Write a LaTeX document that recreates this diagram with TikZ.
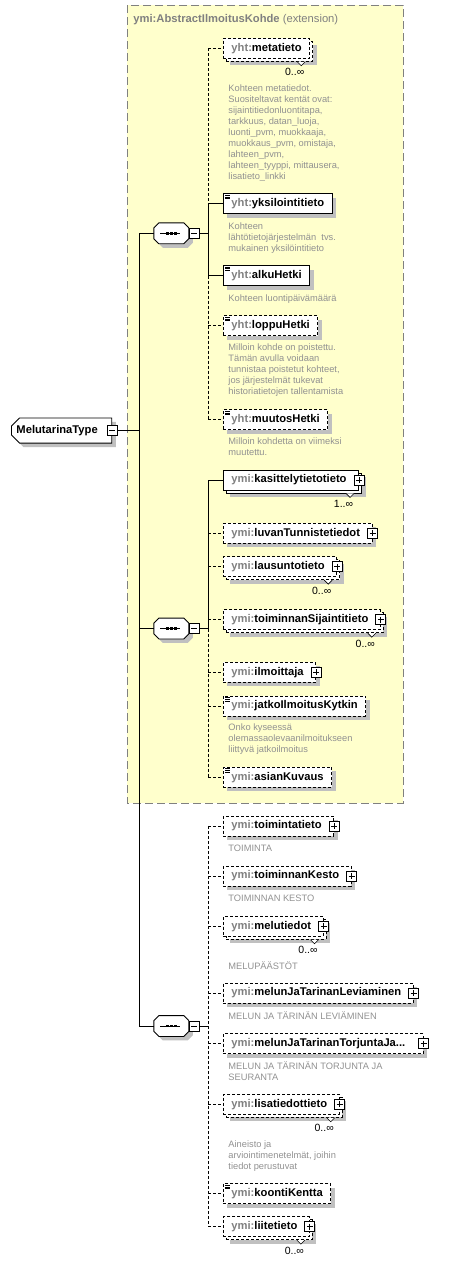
\documentclass[tikz,border=0pt]{standalone}
\usepackage{fontspec}
\setmainfont{Liberation Sans}
\usetikzlibrary{positioning, shapes.misc, shadows}

\definecolor{extyellow}{RGB}{255,255,204}
\definecolor{extborder}{RGB}{128,128,128}
\definecolor{pfxgray}{RGB}{128,128,128}
\definecolor{descgray}{RGB}{145,145,145}
\definecolor{shadowgray}{RGB}{192,192,192}

\newcommand{\ymi}{\textcolor{pfxgray}{ymi:}}
\newcommand{\yht}{\textcolor{pfxgray}{yht:}}

\begin{document}
\begin{tikzpicture}[x=1pt, y=-1pt, line width=0.9pt,
    shadow_s/.style={drop shadow={shadow xshift=4pt, shadow yshift=-4pt, opacity=1, fill=shadowgray}},
    shadow_m/.style={drop shadow={shadow xshift=7pt, shadow yshift=-7pt, opacity=1, fill=shadowgray}},
    elem/.style={draw, fill=white, anchor=west, minimum height=20pt, inner xsep=8pt, inner ysep=2pt,
        font=\fontsize{11.2}{13}\selectfont\bfseries},
    elem_req/.style={elem, shadow_s},
    elem_opt/.style={elem, shadow_s, dash pattern=on 3pt off 2pt},
    elem_reqmulti/.style={elem, shadow_m,
        preaction={draw, fill=white, solid, transform canvas={shift={(3pt,-3pt)}}}},
    elem_optmulti/.style={elem, shadow_m,
        preaction={draw, fill=white, dash pattern=on 3pt off 2pt, transform canvas={shift={(3pt,-3pt)}}},
        dash pattern=on 3pt off 2pt},
    simple_icon/.style={path picture={
        \foreach \dy in {1.5,3.2,4.9}
            \draw[line width=0.7pt, solid] ([shift={(2pt,-\dy pt)}]path picture bounding box.north west) -- ++(5pt,0pt);}},
    expand_gap/.style={execute at end node={\hspace*{4pt}}},
    plus_box/.style={draw, solid, fill=white, minimum size=10pt, inner sep=0pt, line width=0.8pt,
        path picture={
            \draw ([xshift=2pt]path picture bounding box.west) -- ([xshift=-2pt]path picture bounding box.east);
            \draw ([yshift=-2pt]path picture bounding box.north) -- ([yshift=2pt]path picture bounding box.south);}},
    minus_box/.style={draw, solid, fill=white, minimum size=10pt, inner sep=0pt, line width=0.8pt,
        path picture={
            \draw ([xshift=2pt]path picture bounding box.west) -- ([xshift=-2pt]path picture bounding box.east);}},
    seq_node/.style={rectangle, minimum width=34pt, minimum height=20pt, inner sep=0pt},
    seq_outline/.style={insert path={([xshift=5pt]#1.north west) -- ([xshift=-5pt]#1.north east)
        -- ([yshift=-5pt]#1.north east) -- ([yshift=5pt]#1.south east) -- ([xshift=-5pt]#1.south east)
        -- ([xshift=5pt]#1.south west) -- ([yshift=5pt]#1.south west) -- ([yshift=-5pt]#1.north west) -- cycle}},
    root_node/.style={chamfered rectangle, chamfered rectangle corners={north west, south west},
        chamfered rectangle xsep=4pt, chamfered rectangle ysep=4pt,
        draw, fill=white, shadow_s, anchor=west, minimum height=21pt, inner xsep=1pt,
        font=\fontsize{11.2}{13}\selectfont\bfseries, execute at end node={\hspace*{9pt}}},
    desc_text/.style={anchor=north west, inner sep=0pt, align=left, text=descgray,
        font=\fontsize{9.3}{11}\selectfont},
    mult_label/.style={inner sep=0pt, font=\fontsize{10.5}{12}\selectfont},
    notch_mark/.style={draw, solid, fill=white, line width=0.6pt},
    opt_line/.style={dash pattern=on 3pt off 2pt},
    ext_box/.style={draw=extborder, fill=extyellow, dash pattern=on 8pt off 4pt},
    ext_title/.style={anchor=west, inner sep=0pt, text=pfxgray, font=\fontsize{11.2}{13}\selectfont\bfseries}
]
\useasboundingbox (0,0) rectangle (453,1262);

% Extension base type
\draw[ext_box] (127,5) rectangle (403,803);
\node[ext_title] (ext_title) at (133,19.3) {ymi:AbstractIlmoitusKohde {\mdseries (extension)}};

% Root type
\node[root_node] (root) at (11,430.5) {MelutarinaType};
\node[minus_box] (root_minus) at (root.east) {};

% Sequences
\node[seq_node] (s1) at (171.3,233.3) {};
\node[seq_node] (s2) at (171.3,628.5) {};
\node[seq_node] (s3) at (171.3,1026) {};
\foreach \s in {s1,s2,s3} {
    \fill[shadowgray, transform canvas={shift={(4pt,-4pt)}}, seq_outline=\s];
    \draw[fill=white, seq_outline=\s];
    \draw ([xshift=-11pt]\s.center) -- ([xshift=9pt]\s.center);
    \foreach \dx in {-4,0,4}
        \fill ([xshift=\dx pt]\s.center) +(-1.3pt,-1.2pt) rectangle +(1.3pt,1.2pt);
    \node[minus_box, right=0pt of \s] (\s_minus) {};
}

% Sequence 1 (inherited)
\node[elem_optmulti] (meta) at (223,48.3) {\yht metatieto};
\node[elem_req, simple_icon] (yks) at (223,203.7) {\yht yksilointitieto};
\node[elem_req, simple_icon] (alku) at (223,275.5) {\yht alkuHetki};
\node[elem_opt, simple_icon] (loppu) at (223,325.7) {\yht loppuHetki};
\node[elem_opt, simple_icon] (muutos) at (223,419.7) {\yht muutosHetki};

% Sequence 2 (inherited)
\node[elem_reqmulti, expand_gap] (kas) at (223,480) {\ymi kasittelytietotieto};
\node[elem_opt, expand_gap] (luvan) at (223,533.3) {\ymi luvanTunnistetiedot};
\node[elem_optmulti, expand_gap] (laus) at (223,566.7) {\ymi lausuntotieto};
\node[elem_optmulti, expand_gap] (sij) at (223,619.7) {\ymi toiminnanSijaintitieto};
\node[elem_opt, expand_gap] (ilm) at (223,672.3) {\ymi ilmoittaja};
\node[elem_opt, simple_icon] (jatko) at (223,706) {\ymi jatkoIlmoitusKytkin};
\node[elem_opt, simple_icon] (asian) at (223,777.3) {\ymi asianKuvaus};

% Sequence 3 (own elements)
\node[elem_opt, expand_gap] (toimi) at (223,826) {\ymi toimintatieto};
\node[elem_opt, expand_gap] (kesto) at (223,876) {\ymi toiminnanKesto};
\node[elem_optmulti, expand_gap] (melu) at (223,926.3) {\ymi melutiedot};
\node[elem_opt, expand_gap] (levi) at (223,993) {\ymi melunJaTarinanLeviaminen};
\node[elem_opt, expand_gap] (torj) at (223,1043.7) {\ymi melunJaTarinanTorjuntaJa...\hspace*{6pt}};
\node[elem_optmulti, expand_gap] (lisa) at (223,1104.3) {\ymi lisatiedottieto};
\node[elem_opt, simple_icon] (koonti) at (223,1193.7) {\ymi koontiKentta};
\node[elem_optmulti, expand_gap] (liite) at (223,1226.7) {\ymi liitetieto};

% Expand boxes
\foreach \n in {kas,luvan,laus,sij,ilm,toimi,kesto,melu,levi,torj,lisa,liite}
    \node[plus_box] (\n_plus) at (\n.east) {};

% Occurrence marks
\foreach \n/\m in {meta/0,kas/1,laus/0,sij/0,melu/0,lisa/0,liite/0} {
    \draw[notch_mark] ([shift={(-13,3)}]\n.south east) -- ([shift={(-9,7)}]\n.south east) -- ([shift={(-5,3)}]\n.south east);
    \node[mult_label] (\n_mult) at ([shift={(-15.5,13.5)}]\n.south east) {\m..∞};
}

% Annotations
\node[desc_text] (meta_desc) at (228,84.8) {Kohteen metatiedot.\\Suositeltavat kentät ovat:\\sijaintitiedonluontitapa,\\tarkkuus, datan\_luoja,\\luonti\_pvm, muokkaaja,\\muokkaus\_pvm, omistaja,\\lahteen\_pvm,\\lahteen\_tyyppi, mittausera,\\lisatieto\_linkki};
\node[desc_text] (yks_desc) at (228,222.2) {Kohteen\\lähtötietojärjestelmän\ \ tvs.\\mukainen yksilöintitieto};
\node[desc_text] (alku_desc) at (228,294.2) {Kohteen luontipäivämäärä};
\node[desc_text] (loppu_desc) at (228,343.8) {Milloin kohde on poistettu.\\Tämän avulla voidaan\\tunnistaa poistetut kohteet,\\jos järjestelmät tukevat\\historiatietojen tallentamista};
\node[desc_text] (muutos_desc) at (228,437.2) {Milloin kohdetta on viimeksi\\muutettu.};
\node[desc_text] (jatko_desc) at (228,723.2) {Onko kyseessä\\olemassaolevaanilmoitukseen\\liittyvä jatkoilmoitus};
\node[desc_text] (toimi_desc) at (228,844.8) {TOIMINTA};
\node[desc_text] (kesto_desc) at (228,894.8) {TOIMINNAN KESTO};
\node[desc_text] (melu_desc) at (228,961.5) {MELUPÄÄSTÖT};
\node[desc_text] (levi_desc) at (228,1011.5) {MELUN JA TÄRINÄN LEVIÄMINEN};
\node[desc_text] (torj_desc) at (228,1061.5) {MELUN JA TÄRINÄN TORJUNTA JA\\SEURANTA};
\node[desc_text] (lisa_desc) at (228,1140.5) {Aineisto ja\\arviointimenetelmät, joihin\\tiedot perustuvat};

% Trunk from root to the sequences
\coordinate (trunk) at (139,0);
\draw (root_minus.east) -- (root_minus.east -| trunk);
\draw (s1.west -| trunk) -- (s3.west -| trunk);
\foreach \s in {s1,s2,s3}
    \draw (\s.west -| trunk) -- (\s.west);

% Buses to the children
\coordinate (bus) at (208,0);
\foreach \s in {s1,s2,s3}
    \draw (\s_minus.east) -- (\s_minus.east -| bus);
\draw[opt_line] (meta.west -| bus) -- (yks.west -| bus);
\draw (yks.west -| bus) -- (alku.west -| bus);
\draw[opt_line] (alku.west -| bus) -- (muutos.west -| bus);
\draw (kas.west -| bus) -- (s2.west -| bus);
\draw[opt_line] (s2.west -| bus) -- (asian.west -| bus);
\draw[opt_line] (toimi.west -| bus) -- (liite.west -| bus);
\foreach \e in {yks,alku,kas}
    \draw (\e.west -| bus) -- (\e.west);
\foreach \e in {meta,loppu,muutos,luvan,laus,sij,ilm,jatko,asian,toimi,kesto,melu,levi,torj,lisa,koonti,liite}
    \draw[opt_line] (\e.west -| bus) -- (\e.west);

\end{tikzpicture}
\end{document}
